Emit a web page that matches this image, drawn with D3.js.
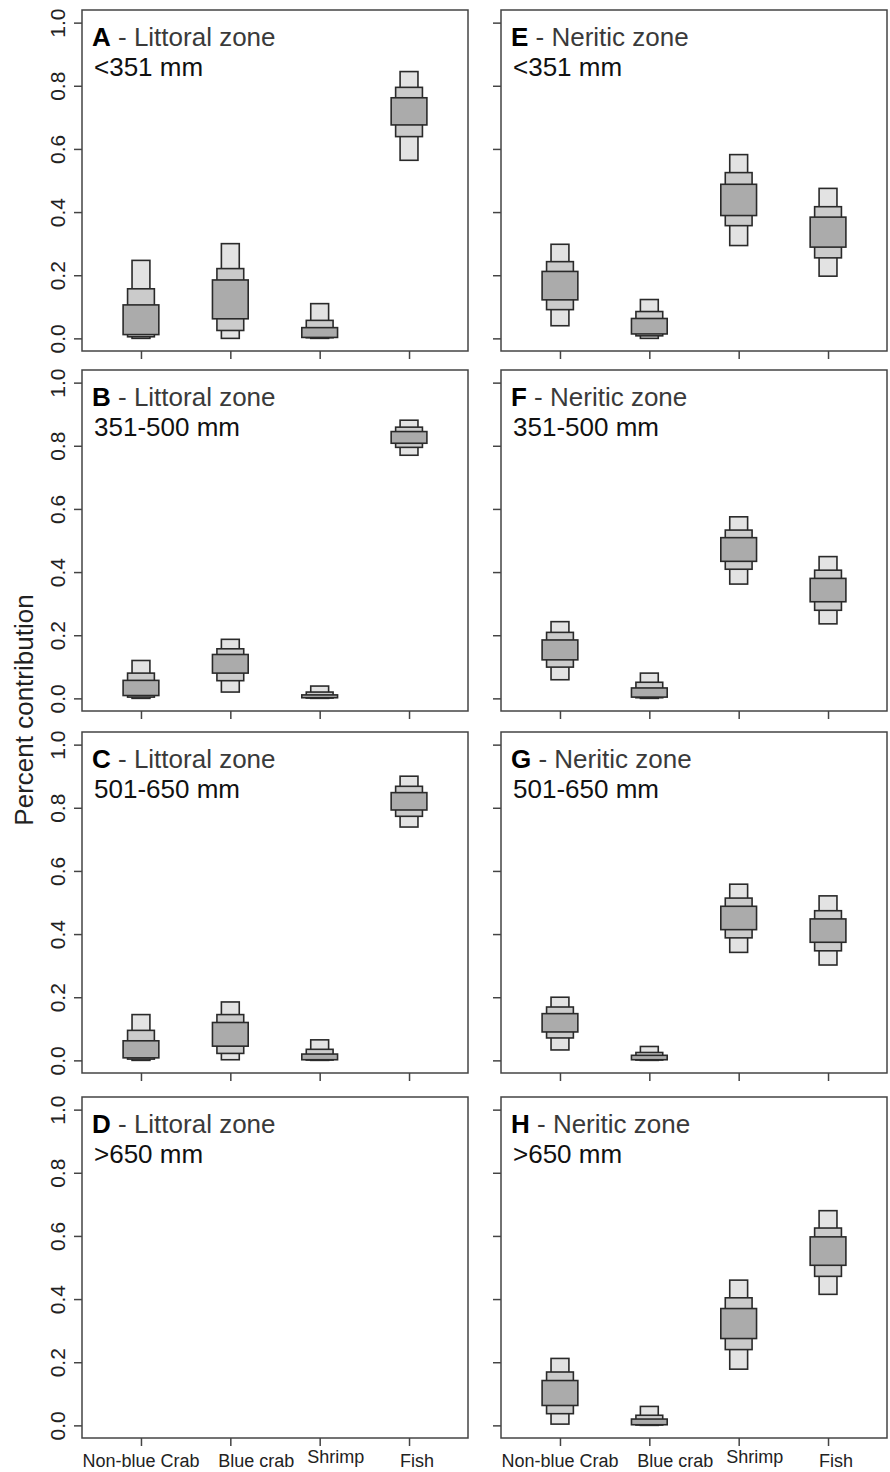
<!DOCTYPE html>
<html>
<head>
<meta charset="utf-8">
<script src="https://cdn.jsdelivr.net/npm/d3@7"></script>
<style>
  body { margin: 0; background: #fff; }
  svg { font-family: "Liberation Sans", Arial, sans-serif; }
</style>
</head>
<body>
<div id="chart"></div>
<script>
// prey sources on the x axis
var categories = ["Non-blue Crab", "Blue crab", "Shrimp", "Fish"];
var yTicks = [0, 0.2, 0.4, 0.6, 0.8, 1.0];

// panel headers, column by column (littoral then neritic)
var panelLetters = ["A", "B", "C", "D", "E", "F", "G", "H"];
var zones = ["Littoral zone", "Neritic zone"];
var sizeClasses = ["<351 mm", "351-500 mm", "501-650 mm", ">650 mm"];

// credible intervals, one row per prey: [lo95, lo75, lo50, hi50, hi75, hi95]
var littoral351 = [
  [0.000, 0.005, 0.012, 0.106, 0.157, 0.247],
  [0.000, 0.025, 0.062, 0.185, 0.221, 0.300],
  [0.000, 0.002, 0.003, 0.034, 0.057, 0.110],
  [0.564, 0.639, 0.676, 0.762, 0.795, 0.845]
];
var littoral500 = [
  [0.000, 0.004, 0.009, 0.057, 0.080, 0.120],
  [0.020, 0.056, 0.080, 0.139, 0.157, 0.187],
  [0.000, 0.001, 0.002, 0.011, 0.020, 0.039],
  [0.770, 0.795, 0.808, 0.845, 0.859, 0.881]
];
var littoral650 = [
  [0.000, 0.004, 0.008, 0.062, 0.095, 0.145],
  [0.002, 0.022, 0.045, 0.120, 0.145, 0.185],
  [0.000, 0.001, 0.002, 0.020, 0.035, 0.065],
  [0.739, 0.773, 0.793, 0.848, 0.868, 0.900]
];
var littoralOver650 = [];
var neritic351 = [
  [0.040, 0.091, 0.122, 0.212, 0.243, 0.298],
  [0.000, 0.008, 0.014, 0.063, 0.085, 0.123],
  [0.294, 0.357, 0.389, 0.488, 0.525, 0.582],
  [0.197, 0.255, 0.289, 0.384, 0.417, 0.475]
];
var neritic500 = [
  [0.059, 0.099, 0.122, 0.185, 0.209, 0.243],
  [0.000, 0.002, 0.004, 0.033, 0.051, 0.080],
  [0.362, 0.409, 0.434, 0.509, 0.533, 0.575],
  [0.236, 0.279, 0.306, 0.380, 0.406, 0.449]
];
var neritic650 = [
  [0.033, 0.071, 0.090, 0.148, 0.169, 0.200],
  [0.000, 0.001, 0.002, 0.016, 0.025, 0.044],
  [0.342, 0.388, 0.414, 0.488, 0.514, 0.558],
  [0.302, 0.347, 0.374, 0.448, 0.474, 0.521]
];
var neriticOver650 = [
  [0.004, 0.037, 0.063, 0.142, 0.169, 0.212],
  [0.000, 0.001, 0.002, 0.020, 0.032, 0.060],
  [0.178, 0.240, 0.275, 0.370, 0.404, 0.460],
  [0.415, 0.472, 0.507, 0.597, 0.625, 0.680]
];

var panelData = [littoral351, littoral500, littoral650, littoralOver650,
                 neritic351, neritic500, neritic650, neriticOver650];

// layout
var width = 890, height = 1472;
var colX = [82, 501];
var rowY = [10, 370, 732, 1097];
var panelW = 386, panelH = 341;
var tickLen = 8;
// the x labels in the original sit a little right of their ticks
var labelNudge = [0, 26, 16, 8];

// box levels drawn widest range first: half width in category units, fill
var levels = [
  {lo: 0, hi: 5, half: 0.10, fill: "#e3e3e3"},
  {lo: 1, hi: 4, half: 0.15, fill: "#cbcbcb"},
  {lo: 2, hi: 3, half: 0.20, fill: "#ababab"}
];

var svg = d3.select("#chart")
  .append("svg")
  .attr("width", width)
  .attr("height", height);

var x = d3.scaleLinear().domain([0.34, 4.66]).range([0, panelW]);
var y = d3.scaleLinear().domain([-0.04, 1.04]).range([panelH, 0]);

panelData.forEach(function (rows, i) {
  var col = Math.floor(i / 4), row = i % 4;
  var g = svg.append("g")
    .attr("transform", "translate(" + colX[col] + "," + rowY[row] + ")");

  // boxes
  rows.forEach(function (q, c) {
    levels.forEach(function (lv) {
      g.append("rect")
        .attr("x", x(c + 1 - lv.half))
        .attr("width", x(c + 1 + lv.half) - x(c + 1 - lv.half))
        .attr("y", y(q[lv.hi]))
        .attr("height", Math.max(y(q[lv.lo]) - y(q[lv.hi]), 0.5))
        .attr("fill", lv.fill)
        .attr("stroke", "#2a2a2a")
        .attr("stroke-width", 1.6);
    });
  });

  // frame
  g.append("rect")
    .attr("width", panelW)
    .attr("height", panelH)
    .attr("fill", "none")
    .attr("stroke", "#444")
    .attr("stroke-width", 1.5);

  // y axis
  var yAxis = d3.axisLeft(y).tickValues(yTicks).tickSize(tickLen)
    .tickFormat(col === 0 ? d3.format(".1f") : "");
  var ya = g.append("g").call(yAxis);
  ya.select(".domain").remove();
  ya.selectAll(".tick line").attr("stroke", "#444").attr("stroke-width", 1.5);
  ya.selectAll(".tick text")
    .attr("transform", "rotate(-90)")
    .attr("x", 0)
    .attr("y", -17)
    .attr("dy", 0)
    .attr("text-anchor", "middle")
    .attr("font-size", 21)
    .attr("fill", "#222");

  // x axis
  var xAxis = d3.axisBottom(x).tickValues([1, 2, 3, 4]).tickSize(tickLen)
    .tickFormat("");
  var xa = g.append("g")
    .attr("transform", "translate(0," + panelH + ")")
    .call(xAxis);
  xa.select(".domain").remove();
  xa.selectAll(".tick line").attr("stroke", "#444").attr("stroke-width", 1.5);

  if (row === 3) {
    g.selectAll(".xlab")
      .data(categories)
      .enter()
      .append("text")
      .attr("class", "xlab")
      .attr("x", function (d, k) { return x(k + 1) + labelNudge[k]; })
      .attr("y", function (d) {
        return panelH + 29 - (/[gjpqy]/.test(d) ? 4 : 0);
      })
      .attr("text-anchor", "middle")
      .attr("font-size", 18)
      .attr("fill", "#222")
      .text(function (d) { return d; });
  }

  // panel header
  var t = g.append("text")
    .attr("x", 10)
    .attr("y", 36)
    .attr("font-size", 26);
  t.append("tspan").attr("font-weight", "bold").attr("fill", "#000")
    .text(panelLetters[i]);
  t.append("tspan").attr("fill", "#3a3a3a").text(" - " + zones[col]);

  g.append("text")
    .attr("x", 12)
    .attr("y", 66)
    .attr("font-size", 26)
    .attr("fill", "#111")
    .text(sizeClasses[row]);
});

// shared y label
svg.append("text")
  .attr("transform", "translate(33,710) rotate(-90)")
  .attr("text-anchor", "middle")
  .attr("font-size", 26)
  .attr("fill", "#222")
  .text("Percent contribution");
</script>
</body>
</html>
